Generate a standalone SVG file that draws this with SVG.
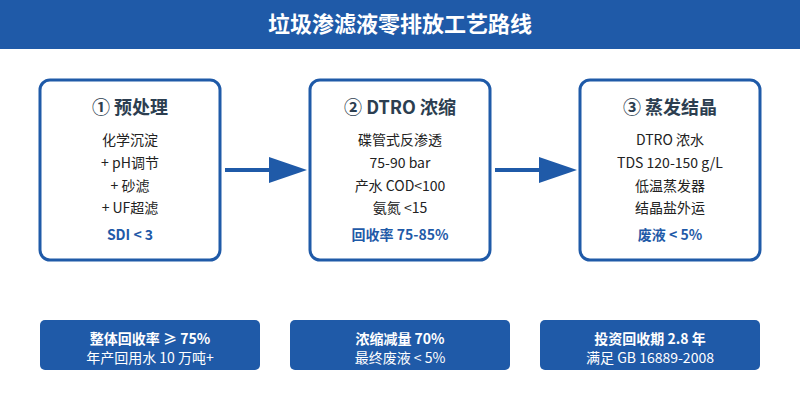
<svg xmlns="http://www.w3.org/2000/svg" width="800" height="400" viewBox="0 0 800 400">
<defs>
<style>
text{font-family:"Noto Sans CJK SC","Noto Sans",sans-serif;text-anchor:middle}
.hdr{fill:#1f5aa8}
.title{fill:#ffffff;font-size:22px;font-weight:bold}
.box{fill:#ffffff;stroke:#1f5aa8;stroke-width:3}
.bt{fill:#2c3e50;font-size:18px;font-weight:bold}
.bl{fill:#222222;font-size:14px}
.hl{fill:#1f5aa8;font-size:14px;font-weight:bold}
.sum{fill:#1f5aa8}
.s1{fill:#ffffff;font-size:14px;font-weight:bold}
.s2{fill:#ffffff;font-size:14px}
.conn{stroke:#1f5aa8;stroke-width:4;fill:none}
.head{fill:#1f5aa8}
</style>
</defs>
<rect width="800" height="400" fill="#ffffff"/>
<g id="header">
<rect class="hdr" x="0" y="0" width="800" height="49"/>
<text class="title" x="400" y="32">垃圾渗滤液零排放工艺路线</text>
</g>
<g id="connectors">
<line class="conn" x1="225" y1="170" x2="272" y2="170"/>
<polygon class="head" points="269,157 307,170 269,183"/>
<line class="conn" x1="495" y1="170" x2="542" y2="170"/>
<polygon class="head" points="539,157 577,170 539,183"/>
</g>
<g id="step1">
<rect class="box" x="40" y="80" width="180" height="180" rx="10"/>
<text class="bt" x="130" y="114">① 预处理</text>
<text class="bl" x="130" y="145">化学沉淀</text>
<text class="bl" x="130" y="168">+ pH调节</text>
<text class="bl" x="130" y="191">+ 砂滤</text>
<text class="bl" x="130" y="213">+ UF超滤</text>
<text class="hl" x="130" y="240">SDI &lt; 3</text>
</g>
<g id="step2">
<rect class="box" x="310" y="80" width="180" height="180" rx="10"/>
<text class="bt" x="400" y="114">② DTRO 浓缩</text>
<text class="bl" x="400" y="145">碟管式反渗透</text>
<text class="bl" x="400" y="168">75-90 bar</text>
<text class="bl" x="400" y="191">产水 COD&lt;100</text>
<text class="bl" x="400" y="213">氨氮 &lt;15</text>
<text class="hl" x="400" y="240">回收率 75-85%</text>
</g>
<g id="step3">
<rect class="box" x="580" y="80" width="180" height="180" rx="10"/>
<text class="bt" x="670" y="114">③ 蒸发结晶</text>
<text class="bl" x="670" y="145">DTRO 浓水</text>
<text class="bl" x="670" y="168">TDS 120-150 g/L</text>
<text class="bl" x="670" y="191">低温蒸发器</text>
<text class="bl" x="670" y="213">结晶盐外运</text>
<text class="hl" x="670" y="240">废液 &lt; 5%</text>
</g>
<g id="summary1">
<rect class="sum" x="40" y="320" width="220" height="50" rx="5"/>
<text class="s1" x="150" y="344">整体回收率 ≥ 75%</text>
<text class="s2" x="150" y="363">年产回用水 10 万吨+</text>
</g>
<g id="summary2">
<rect class="sum" x="290" y="320" width="220" height="50" rx="5"/>
<text class="s1" x="400" y="344">浓缩减量 70%</text>
<text class="s2" x="400" y="363">最终废液 &lt; 5%</text>
</g>
<g id="summary3">
<rect class="sum" x="540" y="320" width="220" height="50" rx="5"/>
<text class="s1" x="650" y="344">投资回收期 2.8 年</text>
<text class="s2" x="650" y="363">满足 GB 16889-2008</text>
</g>
</svg>
